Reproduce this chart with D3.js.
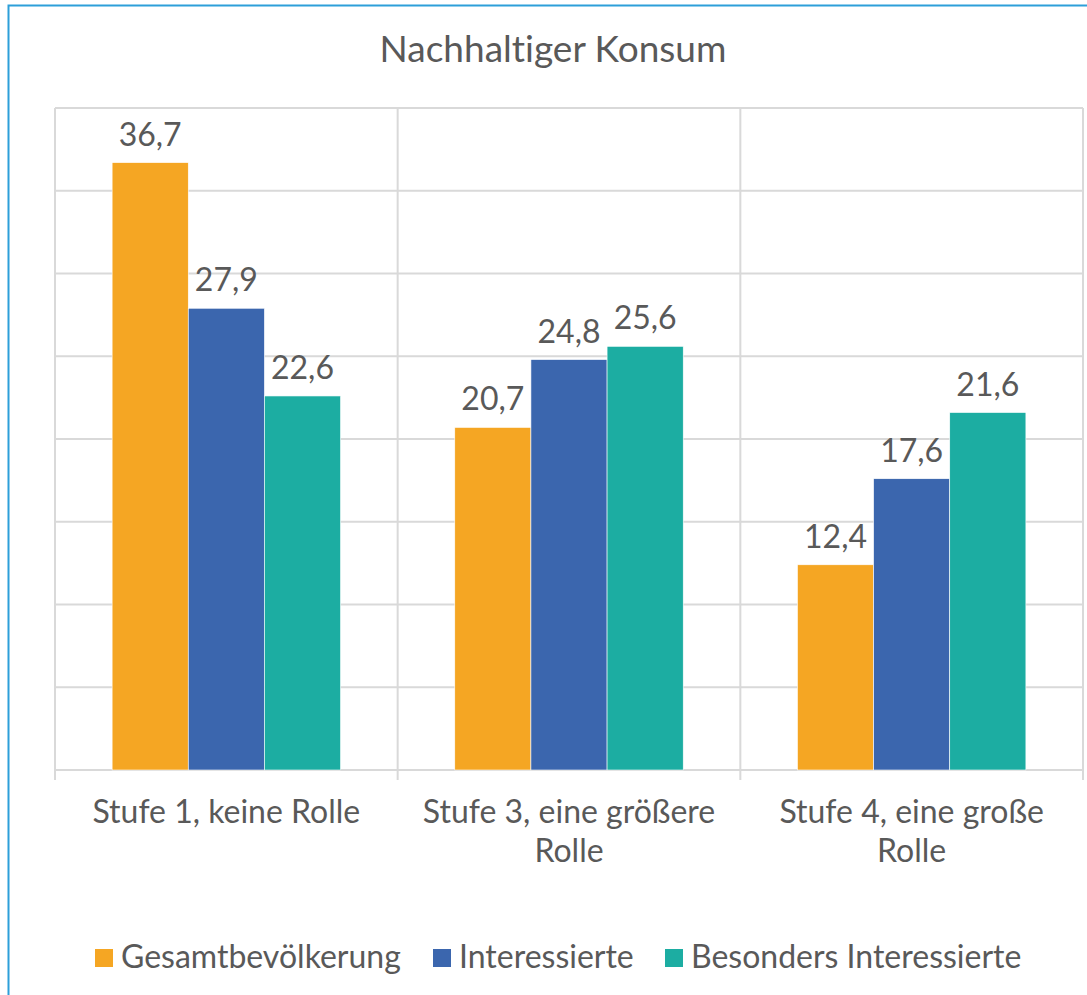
<!DOCTYPE html>
<html>
<head>
<meta charset="utf-8">
<script src="https://cdn.jsdelivr.net/npm/d3@7"></script>
<style>
  body { margin: 0; background: #fff; }
  text { font-family: Lato, "Open Sans", sans-serif; fill: #595959; font-variant-ligatures: none; }
</style>
<title>Nachhaltiger Konsum</title>
</head>
<body>
<div id="chart"></div>
<script>
// data
var categories = [["Stufe 1, keine Rolle"], ["Stufe 3, eine größere", "Rolle"], ["Stufe 4, eine große", "Rolle"]];
var seriesNames = ["Gesamtbevölkerung", "Interessierte", "Besonders Interessierte"];
var gesamt = [36.7, 20.7, 12.4];
var interessierte = [27.9, 24.8, 17.6];
var besonders = [22.6, 25.6, 21.6];
var colors = ["#f5a623", "#3b66ae", "#1cada2"];
var yTicks = [0, 5, 10, 15, 20, 25, 30, 35, 40];

var width = 1087, height = 995;
var svg = d3.select('#chart').append('svg').attr('width', width).attr('height', height);

// outer frame
svg.append('rect').attr('x', 8.5).attr('y', 5.5).attr('width', 1100).attr('height', 1100)
  .attr('fill', 'none').attr('stroke', '#2d9fd9').attr('stroke-width', 2);

var plotLeft = 55, plotRight = 1083, plotTop = 108, plotBottom = 770;

var catIdx = categories.map(function(d, i) { return i; });
var x0 = d3.scaleBand().domain(catIdx).range([plotLeft, plotRight]).padding(0);
var x1 = d3.scaleBand().domain(seriesNames).range([0, x0.bandwidth()]).paddingInner(0).paddingOuter(0.75);
var y = d3.scaleLinear().domain([0, 40]).range([plotBottom, plotTop]);

svg.append('text').attr('x', 553).attr('y', 62).attr('text-anchor', 'middle')
  .style('font-size', '37px').text('Nachhaltiger Konsum');

// horizontal gridlines
svg.append('g').selectAll('line').data(yTicks).enter().append('line')
  .attr('x1', plotLeft).attr('x2', plotRight)
  .attr('y1', function(d) { return y(d); }).attr('y2', function(d) { return y(d); })
  .attr('stroke', '#d9d9d9').attr('stroke-width', 2);

// vertical separators
var sep = catIdx.map(function(i) { return x0(i); }).concat([plotRight]);
svg.append('g').selectAll('line').data(sep).enter().append('line')
  .attr('x1', function(d) { return d; }).attr('x2', function(d) { return d; })
  .attr('y1', plotTop).attr('y2', plotBottom + 10)
  .attr('stroke', '#d9d9d9').attr('stroke-width', 2);

var rows = catIdx.map(function(i) {
  return [gesamt[i], interessierte[i], besonders[i]].map(function(v, k) {
    return { cat: i, name: seriesNames[k], value: v, color: colors[k] };
  });
});

var groups = svg.append('g').selectAll('g').data(rows).enter().append('g')
  .attr('transform', function(d, i) { return 'translate(' + x0(i) + ',0)'; });

groups.selectAll('rect').data(function(d) { return d; }).enter().append('rect')
  .attr('x', function(d) { return x1(d.name); })
  .attr('width', x1.bandwidth())
  .attr('y', function(d) { return y(d.value); })
  .attr('height', function(d) { return plotBottom - y(d.value); })
  .attr('fill', function(d) { return d.color; })
  .attr('stroke', '#fff').attr('stroke-width', 0.6);

groups.selectAll('text').data(function(d) { return d; }).enter().append('text')
  .attr('x', function(d) { return x1(d.name) + x1.bandwidth() / 2; })
  .attr('y', function(d) { return y(d.value) - 17; })
  .attr('text-anchor', 'middle').style('font-size', '32px')
  .text(function(d) { return String(d.value).replace('.', ','); });

// category labels
var labels = svg.append('g').selectAll('text').data(categories).enter().append('text')
  .attr('text-anchor', 'middle').style('font-size', '32px')
  .attr('transform', function(d, i) { return 'translate(' + (x0(i) + x0.bandwidth() / 2) + ',823)'; });
labels.selectAll('tspan').data(function(d) { return d; }).enter().append('tspan')
  .attr('x', 0).attr('y', function(d, i) { return i * 39; }).text(function(d) { return d; });

// legend
var legX = [95, 433, 665];
var leg = svg.append('g').selectAll('g').data(seriesNames).enter().append('g')
  .attr('transform', function(d, i) { return 'translate(' + legX[i] + ',949)'; });
leg.append('rect').attr('width', 18).attr('height', 18).attr('fill', function(d, i) { return colors[i]; });
leg.append('text').attr('x', 26).attr('y', 19).style('font-size', '32px').text(function(d) { return d; });
</script>
</body>
</html>
